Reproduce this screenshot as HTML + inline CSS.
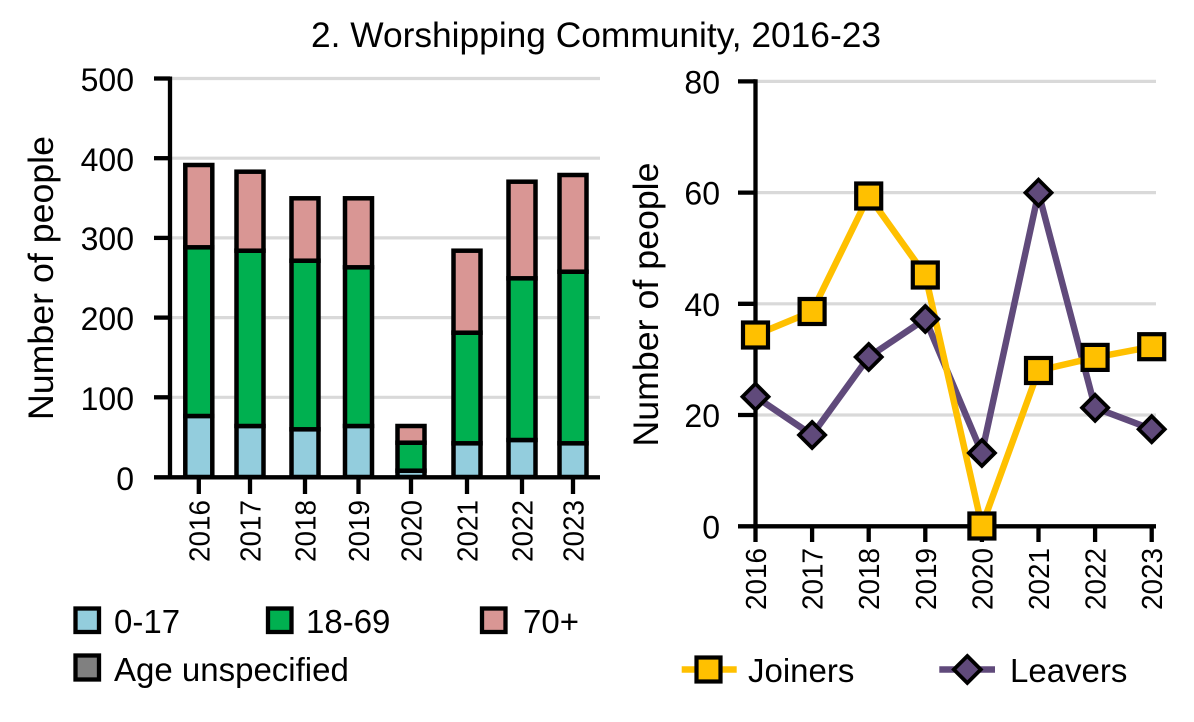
<!DOCTYPE html>
<html>
<head>
<meta charset="utf-8">
<style>
html,body{margin:0;padding:0;background:#fff;}
svg{display:block;}
text{font-family:"Liberation Sans",sans-serif;fill:#000;}
</style>
</head>
<body>
<svg width="1194" height="722" viewBox="0 0 1194 722" xmlns="http://www.w3.org/2000/svg">
<rect x="0" y="0" width="1194" height="722" fill="#fff"/>

<!-- Title -->
<text x="311" y="47" font-size="35" textLength="570" lengthAdjust="spacingAndGlyphs">2. Worshipping Community, 2016-23</text>

<!-- ============ LEFT CHART ============ -->
<g stroke="#D9D9D9" stroke-width="3.2">
<line x1="170" y1="78.5" x2="600" y2="78.5"/>
<line x1="170" y1="158.2" x2="600" y2="158.2"/>
<line x1="170" y1="237.9" x2="600" y2="237.9"/>
<line x1="170" y1="317.6" x2="600" y2="317.6"/>
<line x1="170" y1="397.3" x2="600" y2="397.3"/>
</g>

<g stroke="#000" stroke-width="4.5">
<!-- 2016 c=198.8 -->
<rect x="185.3" y="416" width="27" height="61" fill="#93CDDD"/>
<rect x="185.3" y="247.3" width="27" height="168.7" fill="#00B050"/>
<rect x="185.3" y="165" width="27" height="82.3" fill="#D99694"/>
<!-- 2017 c=250 -->
<rect x="236.5" y="426" width="27" height="51" fill="#93CDDD"/>
<rect x="236.5" y="250.7" width="27" height="175.3" fill="#00B050"/>
<rect x="236.5" y="171.7" width="27" height="79" fill="#D99694"/>
<!-- 2018 c=305 -->
<rect x="291.5" y="429.3" width="27" height="47.7" fill="#93CDDD"/>
<rect x="291.5" y="260.7" width="27" height="168.6" fill="#00B050"/>
<rect x="291.5" y="198.3" width="27" height="62.4" fill="#D99694"/>
<!-- 2019 c=358.5 -->
<rect x="345" y="426" width="27" height="51" fill="#93CDDD"/>
<rect x="345" y="267.3" width="27" height="158.7" fill="#00B050"/>
<rect x="345" y="198.3" width="27" height="69" fill="#D99694"/>
<!-- 2020 c=411 -->
<rect x="397.5" y="470.7" width="27" height="6.3" fill="#93CDDD"/>
<rect x="397.5" y="442.7" width="27" height="28" fill="#00B050"/>
<rect x="397.5" y="426" width="27" height="16.7" fill="#D99694"/>
<!-- 2021 c=467 -->
<rect x="453.5" y="443.3" width="27" height="33.7" fill="#93CDDD"/>
<rect x="453.5" y="332.7" width="27" height="110.6" fill="#00B050"/>
<rect x="453.5" y="250.7" width="27" height="82" fill="#D99694"/>
<!-- 2022 c=522 -->
<rect x="508.5" y="440" width="27" height="37" fill="#93CDDD"/>
<rect x="508.5" y="278.3" width="27" height="161.7" fill="#00B050"/>
<rect x="508.5" y="181.7" width="27" height="96.6" fill="#D99694"/>
<!-- 2023 c=573 -->
<rect x="559.5" y="443.3" width="27" height="33.7" fill="#93CDDD"/>
<rect x="559.5" y="271.7" width="27" height="171.6" fill="#00B050"/>
<rect x="559.5" y="175" width="27" height="96.7" fill="#D99694"/>
</g>

<g stroke="#000" stroke-width="4.3">
<line x1="170" y1="76.5" x2="170" y2="479.5"/>
<line x1="154" y1="477.3" x2="600" y2="477.3"/>
<line x1="154" y1="78.5" x2="170" y2="78.5"/>
<line x1="154" y1="158.2" x2="170" y2="158.2"/>
<line x1="154" y1="237.9" x2="170" y2="237.9"/>
<line x1="154" y1="317.6" x2="170" y2="317.6"/>
<line x1="154" y1="397.3" x2="170" y2="397.3"/>
<line x1="198.8" y1="477" x2="198.8" y2="494"/>
<line x1="250" y1="477" x2="250" y2="494"/>
<line x1="305" y1="477" x2="305" y2="494"/>
<line x1="358.5" y1="477" x2="358.5" y2="494"/>
<line x1="411" y1="477" x2="411" y2="494"/>
<line x1="467" y1="477" x2="467" y2="494"/>
<line x1="522" y1="477" x2="522" y2="494"/>
<line x1="573" y1="477" x2="573" y2="494"/>
</g>

<g font-size="32" text-anchor="end">
<text x="134" y="91">500</text>
<text x="134" y="171">400</text>
<text x="134" y="250">300</text>
<text x="134" y="330">200</text>
<text x="134" y="410">100</text>
<text x="134" y="490">0</text>
</g>

<text x="53" y="278" font-size="35" text-anchor="middle" textLength="284" lengthAdjust="spacingAndGlyphs" transform="rotate(-90 53 278)">Number of people</text>

<g font-size="29" text-anchor="end">
<text x="209.3" y="500" textLength="62" lengthAdjust="spacingAndGlyphs" transform="rotate(-90 209.3 500)">2016</text>
<text x="260.5" y="500" textLength="62" lengthAdjust="spacingAndGlyphs" transform="rotate(-90 260.5 500)">2017</text>
<text x="315.5" y="500" textLength="62" lengthAdjust="spacingAndGlyphs" transform="rotate(-90 315.5 500)">2018</text>
<text x="369" y="500" textLength="62" lengthAdjust="spacingAndGlyphs" transform="rotate(-90 369 500)">2019</text>
<text x="421.5" y="500" textLength="62" lengthAdjust="spacingAndGlyphs" transform="rotate(-90 421.5 500)">2020</text>
<text x="477.5" y="500" textLength="62" lengthAdjust="spacingAndGlyphs" transform="rotate(-90 477.5 500)">2021</text>
<text x="532.5" y="500" textLength="62" lengthAdjust="spacingAndGlyphs" transform="rotate(-90 532.5 500)">2022</text>
<text x="583.5" y="500" textLength="62" lengthAdjust="spacingAndGlyphs" transform="rotate(-90 583.5 500)">2023</text>
</g>

<!-- Left legend -->
<g stroke="#000" stroke-width="4.3">
<rect x="75.5" y="608.5" width="23.5" height="23.5" fill="#93CDDD"/>
<rect x="268" y="608.5" width="23.5" height="23.5" fill="#00B050"/>
<rect x="482" y="608.5" width="23.5" height="23.5" fill="#D99694"/>
<rect x="75.5" y="655.5" width="23.5" height="24" fill="#808080"/>
</g>
<g font-size="33">
<text x="114" y="633">0-17</text>
<text x="306" y="633">18-69</text>
<text x="523" y="633">70+</text>
<text x="114" y="681">Age unspecified</text>
</g>

<!-- ============ RIGHT CHART ============ -->
<g stroke="#D9D9D9" stroke-width="3.2">
<line x1="755" y1="81.4" x2="1156" y2="81.4"/>
<line x1="755" y1="192.6" x2="1156" y2="192.6"/>
<line x1="755" y1="303.8" x2="1156" y2="303.8"/>
<line x1="755" y1="415" x2="1156" y2="415"/>
</g>

<g stroke="#000" stroke-width="4.3">
<line x1="755.5" y1="79.3" x2="755.5" y2="528.5"/>
<line x1="738" y1="526.3" x2="1156" y2="526.3"/>
<line x1="738" y1="81.4" x2="755.5" y2="81.4"/>
<line x1="738" y1="192.6" x2="755.5" y2="192.6"/>
<line x1="738" y1="303.8" x2="755.5" y2="303.8"/>
<line x1="738" y1="415" x2="755.5" y2="415"/>
<line x1="755.5" y1="526" x2="755.5" y2="542"/>
<line x1="812.1" y1="526" x2="812.1" y2="542"/>
<line x1="868.7" y1="526" x2="868.7" y2="542"/>
<line x1="925.3" y1="526" x2="925.3" y2="542"/>
<line x1="981.9" y1="526" x2="981.9" y2="542"/>
<line x1="1038.5" y1="526" x2="1038.5" y2="542"/>
<line x1="1095.1" y1="526" x2="1095.1" y2="542"/>
<line x1="1151.7" y1="526" x2="1151.7" y2="542"/>
</g>

<g font-size="32" text-anchor="end">
<text x="720" y="93.5">80</text>
<text x="720" y="204.7">60</text>
<text x="720" y="315.9">40</text>
<text x="720" y="427.1">20</text>
<text x="720" y="538.3">0</text>
</g>

<text x="658" y="304.5" font-size="35" text-anchor="middle" textLength="284" lengthAdjust="spacingAndGlyphs" transform="rotate(-90 658 304.5)">Number of people</text>

<g font-size="29" text-anchor="end">
<text x="766" y="548" textLength="62" lengthAdjust="spacingAndGlyphs" transform="rotate(-90 766 548)">2016</text>
<text x="822.6" y="548" textLength="62" lengthAdjust="spacingAndGlyphs" transform="rotate(-90 822.6 548)">2017</text>
<text x="879.2" y="548" textLength="62" lengthAdjust="spacingAndGlyphs" transform="rotate(-90 879.2 548)">2018</text>
<text x="935.8" y="548" textLength="62" lengthAdjust="spacingAndGlyphs" transform="rotate(-90 935.8 548)">2019</text>
<text x="992.4" y="548" textLength="62" lengthAdjust="spacingAndGlyphs" transform="rotate(-90 992.4 548)">2020</text>
<text x="1049" y="548" textLength="62" lengthAdjust="spacingAndGlyphs" transform="rotate(-90 1049 548)">2021</text>
<text x="1105.6" y="548" textLength="62" lengthAdjust="spacingAndGlyphs" transform="rotate(-90 1105.6 548)">2022</text>
<text x="1162.2" y="548" textLength="62" lengthAdjust="spacingAndGlyphs" transform="rotate(-90 1162.2 548)">2023</text>
</g>

<!-- Leavers line -->
<polyline fill="none" stroke="#604A7B" stroke-width="6.5" stroke-linejoin="round"
 points="755.5,396.7 812.1,435 868.7,357 925.3,319 981.9,453 1038.5,192.7 1095.1,407.8 1151.7,429.2"/>
<!-- Joiners line -->
<polyline fill="none" stroke="#FFC000" stroke-width="6.5" stroke-linejoin="round"
 points="755.5,335 812.1,311.5 868.7,196 925.3,275 981.9,526 1038.5,370.5 1095.1,357.4 1151.7,346.7"/>

<!-- Leavers markers -->
<g fill="#604A7B" stroke="#000" stroke-width="3.8">
<path d="M755.5,383.7 L768.5,396.7 L755.5,409.7 L742.5,396.7 Z"/>
<path d="M812.1,422 L825.1,435 L812.1,448 L799.1,435 Z"/>
<path d="M868.7,344 L881.7,357 L868.7,370 L855.7,357 Z"/>
<path d="M925.3,306 L938.3,319 L925.3,332 L912.3,319 Z"/>
<path d="M981.9,440 L994.9,453 L981.9,466 L968.9,453 Z"/>
<path d="M1038.5,179.7 L1051.5,192.7 L1038.5,205.7 L1025.5,192.7 Z"/>
<path d="M1095.1,394.8 L1108.1,407.8 L1095.1,420.8 L1082.1,407.8 Z"/>
<path d="M1151.7,416.2 L1164.7,429.2 L1151.7,442.2 L1138.7,429.2 Z"/>
</g>
<!-- Joiners markers -->
<g fill="#FFC000" stroke="#000" stroke-width="4.2">
<rect x="743" y="322.5" width="25" height="25"/>
<rect x="799.6" y="299" width="25" height="25"/>
<rect x="856.2" y="183.5" width="25" height="25"/>
<rect x="912.8" y="262.5" width="25" height="25"/>
<rect x="969.4" y="513.5" width="25" height="25"/>
<rect x="1026" y="358" width="25" height="25"/>
<rect x="1082.6" y="344.9" width="25" height="25"/>
<rect x="1139.2" y="334.2" width="25" height="25"/>
</g>

<!-- Right legend -->
<line x1="681.7" y1="669.5" x2="736.7" y2="669.5" stroke="#FFC000" stroke-width="6.5"/>
<rect x="696.5" y="657.5" width="24" height="24" fill="#FFC000" stroke="#000" stroke-width="4.2"/>
<text x="748" y="682" font-size="33">Joiners</text>
<line x1="939.3" y1="669.5" x2="995" y2="669.5" stroke="#604A7B" stroke-width="6.5"/>
<path d="M967.3,656 L980.8,669.5 L967.3,683 L953.8,669.5 Z" fill="#604A7B" stroke="#000" stroke-width="3.8"/>
<text x="1010" y="682" font-size="33">Leavers</text>
</svg>
</body>
</html>
